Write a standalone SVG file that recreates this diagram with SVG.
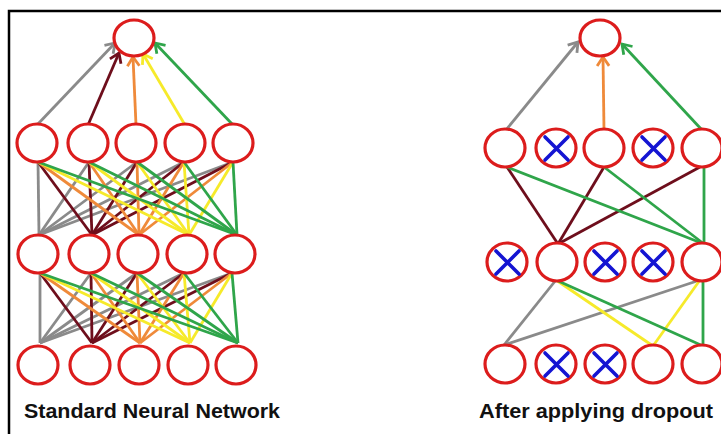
<svg xmlns="http://www.w3.org/2000/svg" width="721" height="434" viewBox="0 0 721 434">
<style>
.n{fill:#fff;stroke:#dc1c1c;stroke-width:3.2}
.x{stroke:#1414d2;stroke-width:3.6;stroke-linecap:round}
.e{stroke-width:2.8;fill:none}
.g{stroke:#8a8a8a}.m{stroke:#6e0e1c}.o{stroke:#ef8a3a}.y{stroke:#f6ea2a}.gr{stroke:#2fa54a}
.t{font-family:"Liberation Sans",Arial,sans-serif;font-weight:bold;font-size:20px;fill:#111}
</style>
<defs>
<marker id="ag" viewBox="-12 -8 14 16" markerWidth="14" markerHeight="16" markerUnits="userSpaceOnUse" orient="auto" refX="0" refY="0"><path d="M-9,-6 L0,0 L-9,6" fill="none" stroke="#8a8a8a" stroke-width="2.8"/></marker>
<marker id="am" viewBox="-12 -8 14 16" markerWidth="14" markerHeight="16" markerUnits="userSpaceOnUse" orient="auto" refX="0" refY="0"><path d="M-9,-6 L0,0 L-9,6" fill="none" stroke="#6e0e1c" stroke-width="2.8"/></marker>
<marker id="ao" viewBox="-12 -8 14 16" markerWidth="14" markerHeight="16" markerUnits="userSpaceOnUse" orient="auto" refX="0" refY="0"><path d="M-9,-6 L0,0 L-9,6" fill="none" stroke="#ef8a3a" stroke-width="2.8"/></marker>
<marker id="ay" viewBox="-12 -8 14 16" markerWidth="14" markerHeight="16" markerUnits="userSpaceOnUse" orient="auto" refX="0" refY="0"><path d="M-9,-6 L0,0 L-9,6" fill="none" stroke="#f6ea2a" stroke-width="2.8"/></marker>
<marker id="agr" viewBox="-12 -8 14 16" markerWidth="14" markerHeight="16" markerUnits="userSpaceOnUse" orient="auto" refX="0" refY="0"><path d="M-9,-6 L0,0 L-9,6" fill="none" stroke="#2fa54a" stroke-width="2.8"/></marker>
</defs>
<rect width="721" height="434" fill="#fff"/>
<path d="M9,434 V11 H721" fill="none" stroke="#000" stroke-width="2.5"/>

<g id="connectors">
<line class="e g" x1="37" y1="125" x2="115" y2="43" marker-end="url(#ag)"/>
<line class="e m" x1="88" y1="125" x2="119" y2="53" marker-end="url(#am)"/>
<line class="e o" x1="136" y1="125" x2="133" y2="57" marker-end="url(#ao)"/>
<line class="e y" x1="185" y1="125" x2="143" y2="54" marker-end="url(#ay)"/>
<line class="e gr" x1="233" y1="125" x2="155" y2="43" marker-end="url(#agr)"/>
<g class="e g"><line x1="38" y1="162" x2="39" y2="235"/><line x1="89" y1="162" x2="39" y2="235"/><line x1="137" y1="162" x2="39" y2="235"/><line x1="184" y1="162" x2="39" y2="235"/><line x1="233" y1="162" x2="39" y2="235"/></g>
<g class="e m"><line x1="38" y1="162" x2="92" y2="235"/><line x1="89" y1="162" x2="92" y2="235"/><line x1="137" y1="162" x2="92" y2="235"/><line x1="184" y1="162" x2="92" y2="235"/><line x1="233" y1="162" x2="92" y2="235"/></g>
<g class="e o"><line x1="38" y1="162" x2="139" y2="235"/><line x1="89" y1="162" x2="139" y2="235"/><line x1="137" y1="162" x2="139" y2="235"/><line x1="184" y1="162" x2="139" y2="235"/><line x1="233" y1="162" x2="139" y2="235"/></g>
<g class="e y"><line x1="38" y1="162" x2="189" y2="235"/><line x1="89" y1="162" x2="189" y2="235"/><line x1="137" y1="162" x2="189" y2="235"/><line x1="184" y1="162" x2="189" y2="235"/><line x1="233" y1="162" x2="189" y2="235"/></g>
<g class="e gr"><line x1="38" y1="162" x2="237" y2="235"/><line x1="89" y1="162" x2="237" y2="235"/><line x1="137" y1="162" x2="237" y2="235"/><line x1="184" y1="162" x2="237" y2="235"/><line x1="233" y1="162" x2="237" y2="235"/></g>
<g class="e g"><line x1="40" y1="273" x2="40" y2="343"/><line x1="91" y1="273" x2="40" y2="343"/><line x1="137" y1="273" x2="40" y2="343"/><line x1="184" y1="273" x2="40" y2="343"/><line x1="232" y1="273" x2="40" y2="343"/></g>
<g class="e m"><line x1="40" y1="273" x2="92" y2="343"/><line x1="91" y1="273" x2="92" y2="343"/><line x1="137" y1="273" x2="92" y2="343"/><line x1="184" y1="273" x2="92" y2="343"/><line x1="232" y1="273" x2="92" y2="343"/></g>
<g class="e o"><line x1="40" y1="273" x2="140" y2="343"/><line x1="91" y1="273" x2="140" y2="343"/><line x1="137" y1="273" x2="140" y2="343"/><line x1="184" y1="273" x2="140" y2="343"/><line x1="232" y1="273" x2="140" y2="343"/></g>
<g class="e y"><line x1="40" y1="273" x2="190" y2="343"/><line x1="91" y1="273" x2="190" y2="343"/><line x1="137" y1="273" x2="190" y2="343"/><line x1="184" y1="273" x2="190" y2="343"/><line x1="232" y1="273" x2="190" y2="343"/></g>
<g class="e gr"><line x1="40" y1="273" x2="238" y2="343"/><line x1="91" y1="273" x2="238" y2="343"/><line x1="137" y1="273" x2="238" y2="343"/><line x1="184" y1="273" x2="238" y2="343"/><line x1="232" y1="273" x2="238" y2="343"/></g>

<line class="e g" x1="506" y1="130" x2="578" y2="42" marker-end="url(#ag)"/>
<line class="e o" x1="604" y1="130" x2="603" y2="57" marker-end="url(#ao)"/>
<line class="e gr" x1="702" y1="130" x2="622" y2="44" marker-end="url(#agr)"/>
<g class="e m"><line x1="507" y1="167" x2="558" y2="244"/><line x1="604" y1="167" x2="558" y2="244"/><line x1="700" y1="167" x2="558" y2="244"/></g>
<g class="e gr"><line x1="507" y1="167" x2="704" y2="244"/><line x1="604" y1="167" x2="704" y2="244"/><line x1="704" y1="167" x2="704" y2="244"/></g>
<g class="e g"><line x1="556" y1="280" x2="504" y2="345"/><line x1="700" y1="280" x2="504" y2="345"/></g>
<g class="e y"><line x1="556" y1="280" x2="653" y2="346"/><line x1="700" y1="280" x2="653" y2="346"/></g>
<g class="e gr"><line x1="556" y1="280" x2="703" y2="346"/><line x1="703" y1="280" x2="703" y2="346"/></g>
</g>

<g id="L-out"><ellipse class="n" cx="134" cy="38" rx="20" ry="18"/></g>
<g id="L1-1"><ellipse class="n" cx="37" cy="143" rx="20" ry="19"/></g>
<g id="L1-2"><ellipse class="n" cx="88" cy="143" rx="20" ry="19"/></g>
<g id="L1-3"><ellipse class="n" cx="136" cy="143" rx="20" ry="19"/></g>
<g id="L1-4"><ellipse class="n" cx="185" cy="143" rx="20" ry="19"/></g>
<g id="L1-5"><ellipse class="n" cx="233" cy="143" rx="20" ry="19"/></g>
<g id="L2-1"><ellipse class="n" cx="38" cy="254" rx="20" ry="19"/></g>
<g id="L2-2"><ellipse class="n" cx="89" cy="254" rx="20" ry="19"/></g>
<g id="L2-3"><ellipse class="n" cx="138" cy="254" rx="20" ry="19"/></g>
<g id="L2-4"><ellipse class="n" cx="187" cy="254" rx="20" ry="19"/></g>
<g id="L2-5"><ellipse class="n" cx="235" cy="254" rx="20" ry="19"/></g>
<g id="L3-1"><ellipse class="n" cx="38" cy="365" rx="20" ry="19"/></g>
<g id="L3-2"><ellipse class="n" cx="90" cy="365" rx="20" ry="19"/></g>
<g id="L3-3"><ellipse class="n" cx="139" cy="365" rx="20" ry="19"/></g>
<g id="L3-4"><ellipse class="n" cx="188" cy="365" rx="20" ry="19"/></g>
<g id="L3-5"><ellipse class="n" cx="236" cy="365" rx="20" ry="19"/></g>

<g id="R-out"><ellipse class="n" cx="600" cy="38" rx="20" ry="18"/></g>
<g id="R1-1"><ellipse class="n" cx="505" cy="148" rx="20" ry="19"/></g>
<g id="R1-2"><ellipse class="n" cx="556" cy="148" rx="20" ry="19"/><path class="x" d="M545,137 L568,160 M568,137 L545,160"/></g>
<g id="R1-3"><ellipse class="n" cx="604" cy="148" rx="20" ry="19"/></g>
<g id="R1-4"><ellipse class="n" cx="653" cy="148" rx="20" ry="19"/><path class="x" d="M642,137 L665,160 M665,137 L642,160"/></g>
<g id="R1-5"><ellipse class="n" cx="702" cy="148" rx="20" ry="19"/></g>
<g id="R2-1"><ellipse class="n" cx="507" cy="262" rx="20" ry="19"/><path class="x" d="M496,251 L519,274 M519,251 L496,274"/></g>
<g id="R2-2"><ellipse class="n" cx="557" cy="262" rx="20" ry="19"/></g>
<g id="R2-3"><ellipse class="n" cx="605" cy="262" rx="20" ry="19"/><path class="x" d="M594,251 L617,274 M617,251 L594,274"/></g>
<g id="R2-4"><ellipse class="n" cx="653" cy="262" rx="20" ry="19"/><path class="x" d="M642,251 L665,274 M665,251 L642,274"/></g>
<g id="R2-5"><ellipse class="n" cx="702" cy="262" rx="20" ry="19"/></g>
<g id="R3-1"><ellipse class="n" cx="505" cy="364" rx="20" ry="19"/></g>
<g id="R3-2"><ellipse class="n" cx="556" cy="364" rx="20" ry="19"/><path class="x" d="M545,353 L568,376 M568,353 L545,376"/></g>
<g id="R3-3"><ellipse class="n" cx="605" cy="364" rx="20" ry="19"/><path class="x" d="M594,353 L617,376 M617,353 L594,376"/></g>
<g id="R3-4"><ellipse class="n" cx="653" cy="364" rx="20" ry="19"/></g>
<g id="R3-5"><ellipse class="n" cx="702" cy="364" rx="20" ry="19"/></g>

<text class="t" x="24" y="418" textLength="256" lengthAdjust="spacingAndGlyphs">Standard Neural Network</text>
<text class="t" x="479" y="418" textLength="234" lengthAdjust="spacingAndGlyphs">After applying dropout</text>
</svg>
